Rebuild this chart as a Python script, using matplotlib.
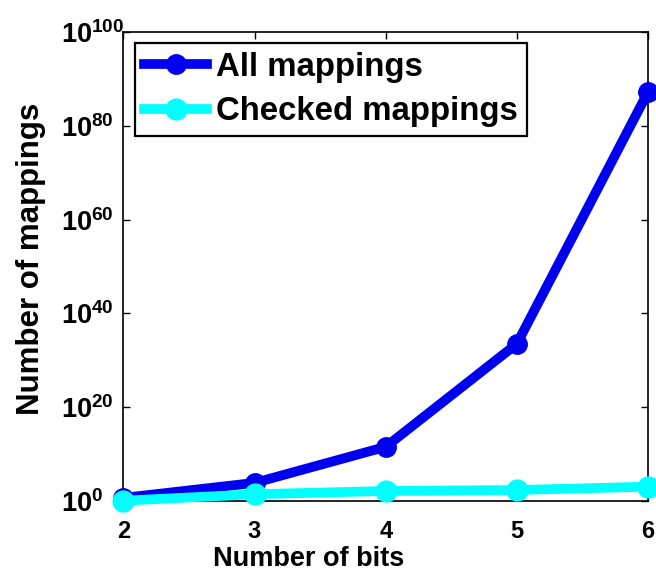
import numpy as np
import matplotlib
matplotlib.use("Agg")
import matplotlib.pyplot as plt
from matplotlib.ticker import FixedLocator, FixedFormatter

bits = [2, 3, 4, 5, 6]
all_mappings = [4, 6.3e3, 3.2e11, 3.2e33, 2.0e87]
checked_mappings = [1, 24, 120, 190, 1000]

y_ticks = [1e0, 1e20, 1e40, 1e60, 1e80, 1e100]
y_labels = [r"$\mathbf{10^{%d}}$" % e for e in (0, 20, 40, 60, 80, 100)]

plt.rcParams["font.family"] = ["Liberation Sans", "DejaVu Sans"]
plt.rcParams["font.weight"] = "bold"
plt.rcParams["mathtext.fontset"] = "custom"
plt.rcParams["mathtext.rm"] = "Liberation Sans:bold"
plt.rcParams["mathtext.bf"] = "Liberation Sans:bold"

fig = plt.figure(figsize=(6.56, 5.74), dpi=100, facecolor="white")
ax = fig.add_axes([0.188, 0.1277, 0.800, 0.816])

ax.plot(bits, all_mappings, "-o", color="#0000f0", lw=7, ms=14,
        label="All mappings", clip_on=False, zorder=3)
ax.plot(bits, checked_mappings, "-o", color="#00ffff", lw=7, ms=15,
        label="Checked mappings", clip_on=False, zorder=4)

ax.set_yscale("log")
ax.set_xlim(2, 6)
ax.set_ylim(1e0, 1e100)
ax.yaxis.set_major_locator(FixedLocator(y_ticks))
ax.yaxis.set_major_formatter(FixedFormatter(y_labels))
ax.yaxis.set_minor_locator(FixedLocator([]))
ax.set_xticks(bits)

for s in ax.spines.values():
    s.set_linewidth(1.2)
ax.tick_params(direction="in", length=5, width=1.0, top=True, right=True)
ax.tick_params(axis="x", labelsize=17, pad=14)
ax.tick_params(axis="y", labelsize=19.5, pad=45)
for t in ax.get_yticklabels():
    t.set_horizontalalignment("left")

ax.set_xlabel("Number of bits", fontsize=19.5, fontweight="bold",
              va="baseline")
ax.xaxis.set_label_coords(0.354, -0.140)
ax.set_ylabel("Number of mappings", fontsize=22.5, fontweight="bold")
ax.yaxis.set_label_coords(-0.147, 0.516)

leg = ax.legend(loc="upper left", bbox_to_anchor=(0.022, 0.978), fontsize=23.8,
                handlelength=1.9, handletextpad=0.28, labelspacing=0.4,
                borderpad=0.28, borderaxespad=0.0, fancybox=False,
                framealpha=1, edgecolor="black")
leg.get_frame().set_linewidth(1.6)

plt.savefig("out.png", dpi=100, facecolor="white")
